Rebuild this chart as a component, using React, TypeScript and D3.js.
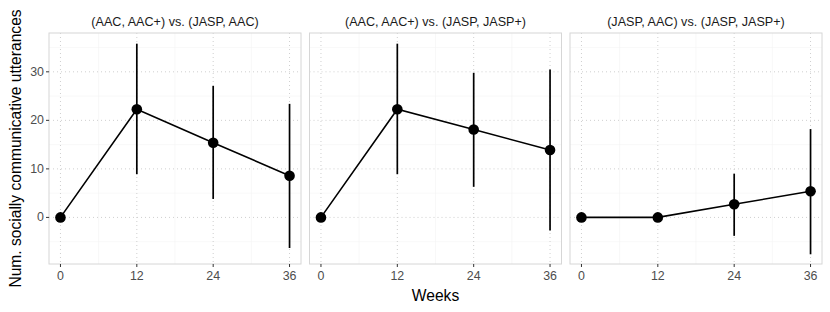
import React from "react";
import * as d3 from "d3";

const panels = [
  "(AAC, AAC+) vs. (JASP, AAC)",
  "(AAC, AAC+) vs. (JASP, JASP+)",
  "(JASP, AAC) vs. (JASP, JASP+)",
];
const weeks = [0, 12, 24, 36];
const means = [
  [0, 22.3, 15.4, 8.6],
  [0, 22.3, 18.1, 13.9],
  [0, 0, 2.7, 5.4],
];
const lower = [
  [0, 8.9, 3.8, -6.3],
  [0, 8.9, 6.3, -2.7],
  [0, 0, -3.8, -7.6],
];
const upper = [
  [0, 35.8, 27.1, 23.4],
  [0, 35.8, 29.8, 30.5],
  [0, 0, 9.0, 18.2],
];
const yTicks = [0, 10, 20, 30];
const yMinor = [-5, 5, 15, 25, 35];
const xMinor = [6, 18, 30];

const W = 830;
const H = 312;
const panelLefts = [49, 309.5, 570];
const panelW = 252;
const top = 33;
const bottom = 264;

export default function App() {
  const y = d3.scaleLinear().domain([-9.6, 38.0]).range([bottom, top]);
  const font = "'Liberation Sans', Arial, Helvetica, sans-serif";
  return (
    <svg
      width={W}
      height={H}
      style={{ position: "absolute", left: 0, top: 0, background: "#fff" }}
      fontFamily={font}
    >
      {panels.map((title, p) => {
        const x = d3
          .scaleLinear()
          .domain([-1.8, 37.8])
          .range([panelLefts[p], panelLefts[p] + panelW]);
        const line = d3
          .line<number>()
          .x((_, i) => x(weeks[i]))
          .y((v) => y(v));
        return (
          <g key={p}>
            <rect
              x={panelLefts[p]}
              y={top}
              width={panelW}
              height={bottom - top}
              fill="#fff"
            />
            {yMinor.map((t) => (
              <line
                key={"ym" + t}
                x1={panelLefts[p]}
                x2={panelLefts[p] + panelW}
                y1={y(t)}
                y2={y(t)}
                stroke="#f4f4f4"
                strokeWidth={0.6}
              />
            ))}
            {xMinor.map((t) => (
              <line
                key={"xm" + t}
                x1={x(t)}
                x2={x(t)}
                y1={top}
                y2={bottom}
                stroke="#f4f4f4"
                strokeWidth={0.6}
              />
            ))}
            {yTicks.map((t) => (
              <line
                key={"yg" + t}
                x1={panelLefts[p]}
                x2={panelLefts[p] + panelW}
                y1={y(t)}
                y2={y(t)}
                stroke="#cfcfcf"
                strokeWidth={1}
                strokeDasharray="1,3"
              />
            ))}
            {weeks.map((t) => (
              <line
                key={"xg" + t}
                x1={x(t)}
                x2={x(t)}
                y1={top}
                y2={bottom}
                stroke="#cfcfcf"
                strokeWidth={1}
                strokeDasharray="1,3"
              />
            ))}
            <rect
              x={panelLefts[p]}
              y={top}
              width={panelW}
              height={bottom - top}
              fill="none"
              stroke="#d6d6d6"
              strokeWidth={1}
            />
            <text
              x={panelLefts[p] + panelW / 2}
              y={22}
              textAnchor="middle"
              dominantBaseline="central"
              fontSize={12.6}
              fill="#1a1a1a"
            >
              {title}
            </text>
            {weeks.map((t) => (
              <g key={"xt" + t}>
                <line
                  x1={x(t)}
                  x2={x(t)}
                  y1={bottom}
                  y2={bottom + 3}
                  stroke="#333"
                  strokeWidth={1}
                />
                <text
                  x={x(t)}
                  y={276}
                  textAnchor="middle"
                  dominantBaseline="central"
                  fontSize={12.4}
                  fill="#4d4d4d"
                >
                  {t}
                </text>
              </g>
            ))}
            <path
              d={line(means[p]) || ""}
              fill="none"
              stroke="#000"
              strokeWidth={1.6}
            />
            {weeks.map((t, i) =>
              upper[p][i] !== lower[p][i] ? (
                <line
                  key={"eb" + t}
                  x1={x(t)}
                  x2={x(t)}
                  y1={y(lower[p][i])}
                  y2={y(upper[p][i])}
                  stroke="#000"
                  strokeWidth={1.7}
                />
              ) : null
            )}
            {weeks.map((t, i) => (
              <circle
                key={"pt" + t}
                cx={x(t)}
                cy={y(means[p][i])}
                r={5.3}
                fill="#000"
              />
            ))}
          </g>
        );
      })}
      {yTicks.map((t) => (
        <g key={"yt" + t}>
          <line
            x1={panelLefts[0] - 3}
            x2={panelLefts[0]}
            y1={y(t)}
            y2={y(t)}
            stroke="#333"
            strokeWidth={1}
          />
          <text
            x={panelLefts[0] - 5}
            y={y(t)}
            textAnchor="end"
            dominantBaseline="central"
            fontSize={12.4}
            fill="#4d4d4d"
          >
            {t}
          </text>
        </g>
      ))}
      <text
        transform={`translate(15,${(top + bottom) / 2}) rotate(-90)`}
        textAnchor="middle"
        dominantBaseline="central"
        fontSize={15.6}
        fill="#000"
      >
        Num. socially communicative utterances
      </text>
      <text
        x={(panelLefts[0] + panelLefts[2] + panelW) / 2}
        y={295}
        textAnchor="middle"
        dominantBaseline="central"
        fontSize={15.6}
        fill="#000"
      >
        Weeks
      </text>
    </svg>
  );
}
